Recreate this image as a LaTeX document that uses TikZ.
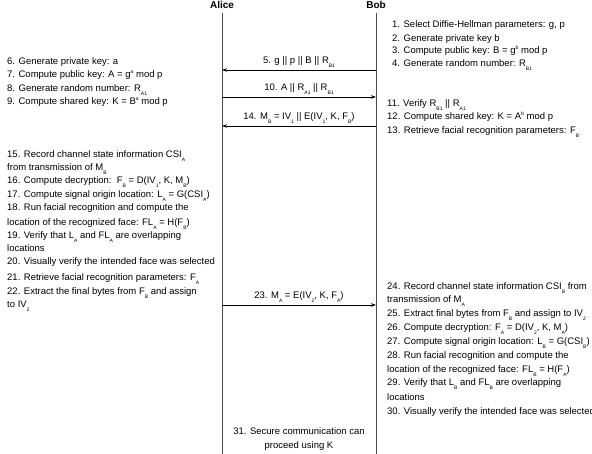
\documentclass[tikz,border=0pt]{standalone}
\usepackage{fontspec}
\setmainfont{Liberation Sans}
\usetikzlibrary{arrows.meta}
\newcommand{\lsub}[1]{\raisebox{-0.4em}{\fontsize{5}{5}\selectfont #1}}
\newcommand{\lsup}[1]{\raisebox{0.45em}{\fontsize{5}{5}\selectfont #1}}
\begin{document}
\begin{tikzpicture}[x=1pt,y=-1pt,
  txt/.style={anchor=base west,inner sep=0pt,font=\fontsize{9.5}{11}\selectfont},
  lbl/.style={anchor=base,inner sep=0pt,font=\fontsize{9.5}{11}\selectfont},
  head/.style={anchor=base,inner sep=0pt,font=\fontsize{10}{11}\selectfont\bfseries},
  life/.style={draw=black!70,line width=0.9pt},
  msg/.style={draw=black,line width=0.7pt,-{Stealth[length=5pt,width=3.5pt]}}]
\useasboundingbox (0,0) rectangle (592,454);
% headers
\node[head] (alice) at (222,9) {Alice};
\node[head] (bob) at (376,9) {Bob};
\coordinate (atop) at (222,13);
\coordinate (abot) at (222,454);
\coordinate (btop) at (376,13);
\coordinate (bbot) at (376,454);
\draw[life] (atop) -- (abot);
\draw[life] (btop) -- (bbot);
% Bob top
\node[txt] (b1) at (392,28) {1. Select Diffie-Hellman parameters: g, p};
\node[txt] (b2) at (392,42) {2. Generate private key b};
\node[txt] (b3) at (392,54) {3. Compute public key: B = g\lsup{b} mod p};
\node[txt] (b4) at (392,67) {4. Generate random number: R\lsub{B1}};
% Alice top
\node[txt] (a6) at (7,65) {6. Generate private key: a};
\node[txt] (a7) at (7,78) {7. Compute public key: A = g\lsup{a} mod p};
\node[txt] (a8) at (7,92) {8. Generate random number: R\lsub{A1}};
\node[txt] (a9) at (7,105) {9. Compute shared key: K = B\lsup{a} mod p};
% messages
\coordinate (m5b) at (376,70); \coordinate (m5a) at (222,70);
\draw[msg] (m5b) -- (m5a);
\node[lbl] (l5) at (299,64) {5. g || p || B || R\lsub{B1}};
\coordinate (m10a) at (222,97); \coordinate (m10b) at (376,97);
\draw[msg] (m10a) -- (m10b);
\node[lbl] (l10) at (299,91) {10. A || R\lsub{A1} || R\lsub{B1}};
\coordinate (m14b) at (376,126); \coordinate (m14a) at (222,126);
\draw[msg] (m14b) -- (m14a);
\node[lbl] (l14) at (299,120) {14. M\lsub{B} = IV\lsub{1} || E(IV\lsub{1}, K, F\lsub{B})};
% Bob middle
\node[txt] (b11) at (387,107) {11. Verify R\lsub{B1} || R\lsub{A1}};
\node[txt] (b12) at (387,120) {12. Compute shared key: K = A\lsup{b} mod p};
\node[txt] (b13) at (387,134) {13. Retrieve facial recognition parameters: F\lsub{B}};
% Alice lower
\node[txt] (a15) at (7,158) {15. Record channel state information CSI\lsub{A}};
\node[txt] (a15b) at (7,171) {from transmission of M\lsub{B}};
\node[txt] (a16) at (7,184) {16. Compute decryption:\ \ F\lsub{B} = D(IV\lsub{1}, K, M\lsub{B})};
\node[txt] (a17) at (7,198) {17. Compute signal origin location: L\lsub{A} = G(CSI\lsub{A})};
\node[txt] (a18) at (7,211) {18. Run facial recognition and compute the};
\node[txt] (a18b) at (7,226) {location of the recognized face: FL\lsub{A} = H(F\lsub{B})};
\node[txt] (a19) at (7,239) {19. Verify that L\lsub{A} and FL\lsub{A} are overlapping};
\node[txt] (a19b) at (7,252) {locations};
\node[txt] (a20) at (7,265) {20. Visually verify the intended face was selected};
\node[txt] (a21) at (7,281) {21. Retrieve facial recognition parameters: F\lsub{A}};
\node[txt] (a22) at (7,295) {22. Extract the final bytes from F\lsub{B} and assign};
\node[txt] (a22b) at (7,308) {to IV\lsub{2}};
% message 23
\coordinate (m23a) at (222,305); \coordinate (m23b) at (376,305);
\draw[msg] (m23a) -- (m23b);
\node[lbl] (l23) at (299,299) {23. M\lsub{A} = E(IV\lsub{2}, K, F\lsub{A})};
% Bob lower
\node[txt] (b24) at (387,290) {24. Record channel state information CSI\lsub{B} from};
\node[txt] (b24b) at (387,303) {transmission of M\lsub{A}};
\node[txt] (b25) at (387,317) {25. Extract final bytes from F\lsub{B} and assign to IV\lsub{2}};
\node[txt] (b26) at (387,331) {26. Compute decryption: F\lsub{A} = D(IV\lsub{2}, K, M\lsub{A})};
\node[txt] (b27) at (387,345) {27. Compute signal origin location: L\lsub{B} = G(CSI\lsub{B})};
\node[txt] (b28) at (387,359) {28. Run facial recognition and compute the};
\node[txt] (b28b) at (387,373) {location of the recognized face: FL\lsub{B} = H(F\lsub{A})};
\node[txt] (b29) at (387,386) {29. Verify that L\lsub{B} and FL\lsub{B} are overlapping};
\node[txt] (b29b) at (387,400) {locations};
\node[txt] (b30) at (387,414) {30. Visually verify the intended face was selected};
% final
\node[lbl] (f31) at (299,435) {31. Secure communication can};
\node[lbl] (f31b) at (299,448) {proceed using K};
\end{tikzpicture}
\end{document}
